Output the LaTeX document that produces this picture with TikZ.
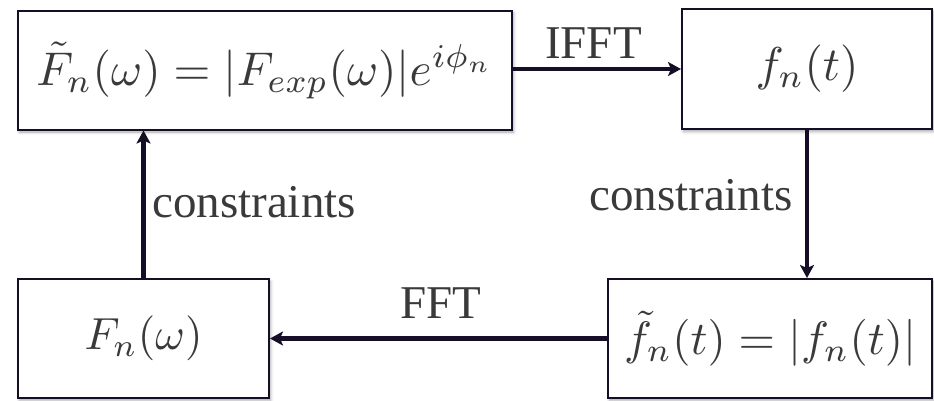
\documentclass[tikz,border=0pt]{standalone}
\usepackage{fontspec}
\setmainfont{Liberation Serif}
\usepackage{graphicx}
\usetikzlibrary{arrows.meta,shadows.blur}
\definecolor{linec}{HTML}{160E26}
\definecolor{textc}{HTML}{3A3A3A}
\tikzset{
  box/.style={draw=linec, line width=2pt, fill=white, inner sep=0pt, text=textc,
    blur shadow={shadow xshift=1.5pt, shadow yshift=-2.5pt, shadow blur radius=3pt, shadow opacity=35}},
  flow/.style={draw=linec, line width=4.6pt, -{Stealth[length=13pt,width=14pt,inset=3pt]}},
  lbl/.style={text=textc, font=\fontsize{47}{50}\selectfont, inner sep=0pt, anchor=base}
}
\begin{document}
\begin{tikzpicture}[x=1pt,y=-1pt]
\useasboundingbox (0,0) rectangle (934,400);
\node[box, minimum width=494pt, minimum height=119pt] (tl) at (265,70)
  {\resizebox{457pt}{!}{$\tilde{F}_n(\omega) = \left|F_{exp}(\omega)\right|\!e^{i\phi_n}$}};
\node[box, minimum width=250pt, minimum height=120pt] (tr) at (807,69)
  {\resizebox{103pt}{!}{$f_n(t)$}};
\node[box, minimum width=251pt, minimum height=119pt] (bl) at (143.5,338.5)
  {\resizebox{118pt}{!}{$F_n(\omega)$}};
\node[box, minimum width=324pt, minimum height=119pt] (br) at (770,338.5)
  {\resizebox{292pt}{!}{$\tilde{f}_n(t) = |f_n(t)|$}};
\draw[flow] (tl.east |- tr.west) -- (tr.west);
\draw[flow] (tr.south) -- (tr.south |- br.north);
\draw[flow] (br.west |- bl.east) -- (bl.east);
\draw[flow] (bl.north) -- (bl.north |- tl.south);
\node[lbl] (ifft) at (593.5,58) {IFFT};
\node[lbl] (fft) at (440.5,318) {FFT};
\node[lbl, anchor=base west] (cl) at (152,217) {constraints};
\node[lbl, anchor=base east] (cr) at (793,210) {constraints};
\end{tikzpicture}
\end{document}
